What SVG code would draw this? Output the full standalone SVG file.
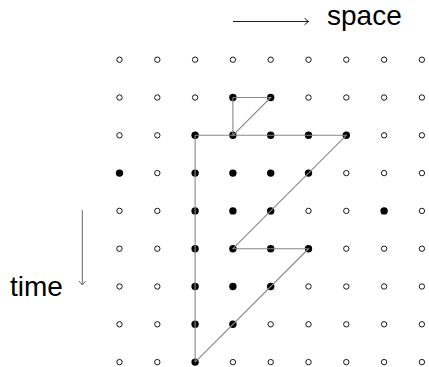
<svg xmlns="http://www.w3.org/2000/svg" width="429" height="367" viewBox="0 0 429 367">
<style>
.o{fill:#fff;stroke:#000;stroke-width:0.9}
.f{fill:#000;stroke:none}
.e{stroke:#888;stroke-width:1.1;fill:none}
.a{stroke:#000;stroke-width:0.9;fill:none}
.ag{stroke:#666;stroke-width:1;fill:none}
text{font-family:"Liberation Sans",Arial,sans-serif;font-size:28px;fill:#000}
</style>
<defs>
<circle id="oc" r="2.7" class="o"/>
<circle id="fc" r="3.7" class="f"/>
</defs>
<g id="nodes">
<g id="r0"><use href="#oc" x="119.5" y="59.7"/><use href="#oc" x="157.3" y="59.7"/><use href="#oc" x="195.1" y="59.7"/><use href="#oc" x="232.9" y="59.7"/><use href="#oc" x="270.7" y="59.7"/><use href="#oc" x="308.5" y="59.7"/><use href="#oc" x="346.3" y="59.7"/><use href="#oc" x="384.1" y="59.7"/><use href="#oc" x="421.9" y="59.7"/></g>
<g id="r1"><use href="#oc" x="119.5" y="97.5"/><use href="#oc" x="157.3" y="97.5"/><use href="#oc" x="195.1" y="97.5"/><use href="#fc" x="232.9" y="97.5"/><use href="#fc" x="270.7" y="97.5"/><use href="#oc" x="308.5" y="97.5"/><use href="#oc" x="346.3" y="97.5"/><use href="#oc" x="384.1" y="97.5"/><use href="#oc" x="421.9" y="97.5"/></g>
<g id="r2"><use href="#oc" x="119.5" y="135.3"/><use href="#oc" x="157.3" y="135.3"/><use href="#fc" x="195.1" y="135.3"/><use href="#fc" x="232.9" y="135.3"/><use href="#fc" x="270.7" y="135.3"/><use href="#fc" x="308.5" y="135.3"/><use href="#fc" x="346.3" y="135.3"/><use href="#oc" x="384.1" y="135.3"/><use href="#oc" x="421.9" y="135.3"/></g>
<g id="r3"><use href="#fc" x="119.5" y="173.1"/><use href="#oc" x="157.3" y="173.1"/><use href="#fc" x="195.1" y="173.1"/><use href="#fc" x="232.9" y="173.1"/><use href="#fc" x="270.7" y="173.1"/><use href="#fc" x="308.5" y="173.1"/><use href="#oc" x="346.3" y="173.1"/><use href="#oc" x="384.1" y="173.1"/><use href="#oc" x="421.9" y="173.1"/></g>
<g id="r4"><use href="#oc" x="119.5" y="210.9"/><use href="#oc" x="157.3" y="210.9"/><use href="#fc" x="195.1" y="210.9"/><use href="#fc" x="232.9" y="210.9"/><use href="#fc" x="270.7" y="210.9"/><use href="#oc" x="308.5" y="210.9"/><use href="#oc" x="346.3" y="210.9"/><use href="#fc" x="384.1" y="210.9"/><use href="#oc" x="421.9" y="210.9"/></g>
<g id="r5"><use href="#oc" x="119.5" y="248.7"/><use href="#oc" x="157.3" y="248.7"/><use href="#fc" x="195.1" y="248.7"/><use href="#fc" x="232.9" y="248.7"/><use href="#fc" x="270.7" y="248.7"/><use href="#fc" x="308.5" y="248.7"/><use href="#oc" x="346.3" y="248.7"/><use href="#oc" x="384.1" y="248.7"/><use href="#oc" x="421.9" y="248.7"/></g>
<g id="r6"><use href="#oc" x="119.5" y="286.5"/><use href="#oc" x="157.3" y="286.5"/><use href="#fc" x="195.1" y="286.5"/><use href="#fc" x="232.9" y="286.5"/><use href="#fc" x="270.7" y="286.5"/><use href="#oc" x="308.5" y="286.5"/><use href="#oc" x="346.3" y="286.5"/><use href="#oc" x="384.1" y="286.5"/><use href="#oc" x="421.9" y="286.5"/></g>
<g id="r7"><use href="#oc" x="119.5" y="324.3"/><use href="#oc" x="157.3" y="324.3"/><use href="#fc" x="195.1" y="324.3"/><use href="#fc" x="232.9" y="324.3"/><use href="#oc" x="270.7" y="324.3"/><use href="#oc" x="308.5" y="324.3"/><use href="#oc" x="346.3" y="324.3"/><use href="#oc" x="384.1" y="324.3"/><use href="#oc" x="421.9" y="324.3"/></g>
<g id="r8"><use href="#oc" x="119.5" y="362.1"/><use href="#oc" x="157.3" y="362.1"/><use href="#fc" x="195.1" y="362.1"/><use href="#oc" x="232.9" y="362.1"/><use href="#oc" x="270.7" y="362.1"/><use href="#oc" x="308.5" y="362.1"/><use href="#oc" x="346.3" y="362.1"/><use href="#oc" x="384.1" y="362.1"/><use href="#oc" x="421.9" y="362.1"/></g>
</g>
<g id="connectors">
<path class="e" d="M232.9 97.5H270.7L232.9 135.3V97.5"/>
<path class="e" d="M195.1 362.1V135.3H346.3L232.9 248.7H308.5L195.1 362.1"/>
</g>
<g id="space-axis">
<path class="a" d="M233 21.5H308.5M304.5 18.2L308.5 21.5L304.5 24.8"/>
<text x="327" y="25">space</text>
</g>
<g id="time-axis">
<path class="ag" d="M82.3 210V285M79 281L82.3 285L85.6 281"/>
<text x="10" y="296">time</text>
</g>
</svg>
